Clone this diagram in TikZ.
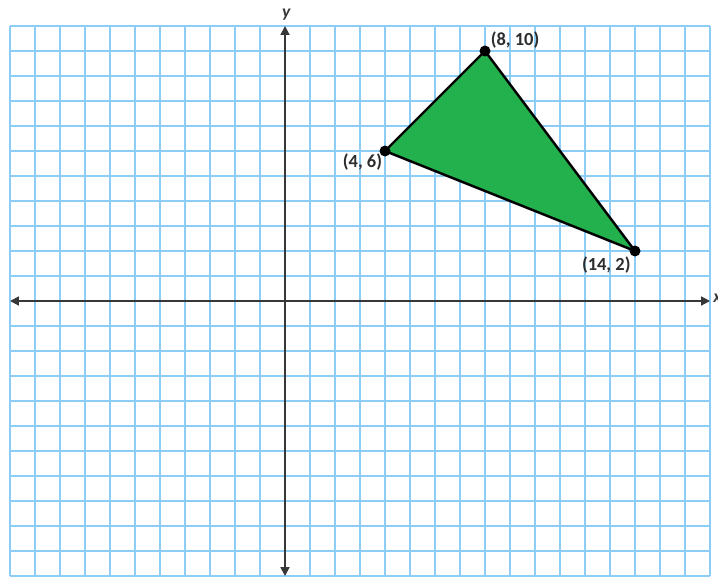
\documentclass[tikz,border=0pt]{standalone}
\usepackage{fontspec}
\setmainfont{Carlito}
\usetikzlibrary{arrows.meta}
\definecolor{gridblue}{RGB}{140,205,245}
\definecolor{axisgray}{RGB}{55,55,55}
\definecolor{trigreen}{RGB}{34,177,76}
\definecolor{labelgray}{RGB}{45,45,45}
\tikzset{
  gridline/.style={draw=gridblue, line width=0.9pt},
  axisline/.style={draw=axisgray, line width=1.1pt, {Triangle[length=5pt,width=5pt]}-{Triangle[length=5pt,width=5pt]}},
  vertex/.style={circle, fill=black, inner sep=0pt, minimum size=0.22cm},
  ptlabel/.style={font=\bfseries\fontsize{10.5}{12}\selectfont, text=labelgray, inner sep=1pt},
  axislabel/.style={font=\bfseries\itshape\fontsize{10}{12}\selectfont, text=axisgray, inner sep=1pt}
}
\begin{document}
\begin{tikzpicture}[x=0.5cm,y=0.5cm]
\useasboundingbox (-11.4,-11.16) rectangle (17.32,12.04);
\fill[white] (-11.4,-11.16) rectangle (17.32,12.04);
% grid
\foreach \i in {-11,...,17} \draw[gridline] (\i,-11) -- (\i,11);
\foreach \j in {-11,...,11} \draw[gridline] (-11,\j) -- (17,\j);
% axes
\coordinate (xl) at (-11,0);
\coordinate (xr) at (17,0);
\coordinate (yb) at (0,-11);
\coordinate (yt) at (0,11);
\draw[axisline] (xl) -- (xr);
\draw[axisline] (yb) -- (yt);
\node[axislabel, anchor=west] (xlab) at (17.05,0.1) {x};
\node[axislabel] (ylab) at (0.05,11.45) {y};
% triangle
\coordinate (A) at (4,6);
\coordinate (B) at (8,10);
\coordinate (C) at (14,2);
\filldraw[fill=trigreen, draw=black, line width=1.4pt, line join=round] (A) -- (B) -- (C) -- cycle;
\node[vertex] (pA) at (A) {};
\node[vertex] (pB) at (B) {};
\node[vertex] (pC) at (C) {};
\node[ptlabel] (lA) at (3.1,5.55) {(4, 6)};
\node[ptlabel] (lB) at (9.2,10.45) {(8, 10)};
\node[ptlabel] (lC) at (12.85,1.45) {(14, 2)};
\end{tikzpicture}
\end{document}
